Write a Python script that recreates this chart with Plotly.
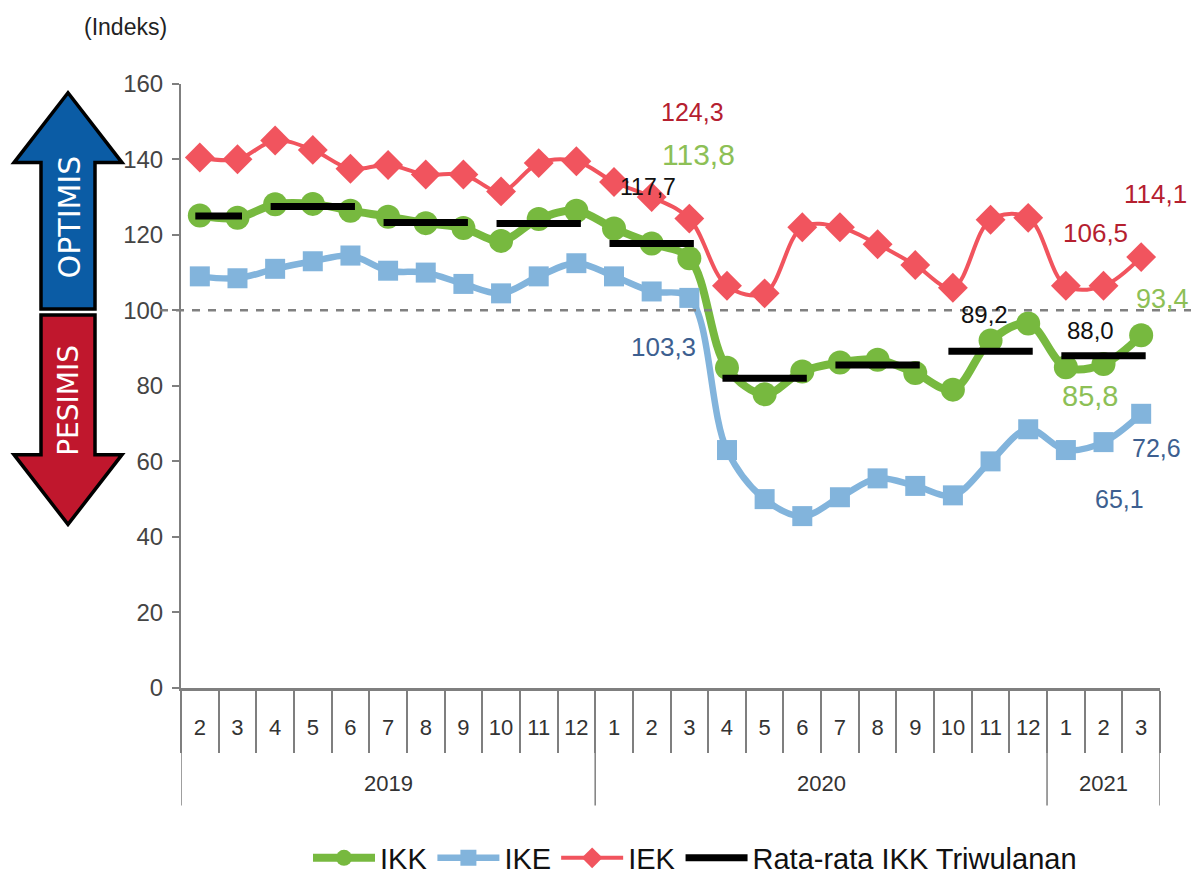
import plotly.graph_objects as go

OFF = 8  # default page margin around the figure
W, H = 1199, 866
PTOP, PH = 14, 800  # plot area top offset and height actually used by the page layout
L, R, T, B = 181, 1160, 84, 690
FONT = "Liberation Sans"

months = [2,3,4,5,6,7,8,9,10,11,12,1,2,3,4,5,6,7,8,9,10,11,12,1,2,3]
ikk = [125.1,124.5,128.1,128.2,126.4,124.8,123.1,121.8,118.4,124.2,126.4,121.7,117.7,113.8,84.8,77.8,83.8,86.2,86.9,83.4,79.0,92.0,96.5,84.9,85.8,93.4]
ike = [109,108.5,111,113,114.5,110.5,110,107,104.5,109,112.5,109,105,103.3,63,50,45.5,50.5,55.5,53.5,51,60,68.5,63,65.1,72.6]
iek = [140.5,140,145,142.5,137.5,138.5,136,136,131.5,139,139.5,134,130,124.3,106.5,104.5,122,122,117.5,112,106,124,124.5,106.5,106.5,114.1]
avg_start = [0,2,5,8,11,14,17,20,23]
avg_end = [1,4,7,10,13,16,19,22,25]
avg_val = [125,127.5,123.3,123,117.7,82,85.5,89.2,88.0]
years = ["2019","2020","2021"]
year_spans = [(-0.5,10.5),(10.5,22.5),(22.5,25.5)]
y_ticks = [0,20,40,60,80,100,120,140,160]

def px(x): return (x - OFF) / W
def py(y): return 1 - (y - OFF - PTOP) / PH

xs = list(range(len(months)))
ax, ay = [], []
for s, e, v in zip(avg_start, avg_end, avg_val):
    ax += [s - 0.12, e + 0.12, None]
    ay += [v, v, None]

fig = go.Figure()
fig.add_trace(go.Scatter(x=xs, y=ikk, name="IKK", mode="lines+markers",
    line=dict(color="#77B93F", width=8, shape="spline", smoothing=1),
    marker=dict(symbol="circle", size=24, color="#77B93F")))
fig.add_trace(go.Scatter(x=xs, y=ike, name="IKE", mode="lines+markers",
    line=dict(color="#82B4DC", width=6.5, shape="spline", smoothing=1),
    marker=dict(symbol="square", size=20, color="#82B4DC")))
fig.add_trace(go.Scatter(x=xs, y=iek, name="IEK", mode="lines+markers",
    line=dict(color="#F1545E", width=4, shape="spline", smoothing=1),
    marker=dict(symbol="diamond", size=23, color="#F1545E")))
fig.add_trace(go.Scatter(x=ax, y=ay, name="Rata-rata IKK Triwulanan", mode="lines",
    line=dict(color="black", width=7)))

shapes = []
shapes.append(dict(type="line", xref="paper", yref="y", x0=px(160), x1=px(1197), y0=100, y1=100,
                   line=dict(color="#808080", width=2.5, dash="8px 8px"), layer="above"))
for b in [-0.5, 10.5, 22.5, 25.5]:
    shapes.append(dict(type="line", xref="x", yref="paper", x0=b, x1=b, y0=py(B), y1=py(808),
                       line=dict(color="#7f7f7f", width=1.5)))
def path(pts):
    return "M " + " L ".join(f"{px(x):.5f},{py(y):.5f}" for x, y in pts) + " Z"
up = [(68,93),(122,163),(95,163),(95,310),(41,310),(41,163),(14,163)]
down = [(41,316),(95,316),(95,456),(122,456),(68,526),(14,456),(41,456)]
shapes.append(dict(type="path", xref="paper", yref="paper", path=path(up), fillcolor="#0B5CA5",
                   line=dict(color="black", width=3.5)))
shapes.append(dict(type="path", xref="paper", yref="paper", path=path(down), fillcolor="#C0172D",
                   line=dict(color="black", width=3.5)))

def note(text, x, y, size, color, **kw):
    return dict(text=text, xref="paper", yref="paper", x=px(x), y=py(y), xanchor="center", yanchor="middle",
                showarrow=False, font=dict(family=kw.pop("family", FONT), size=size, color=color), **kw)

RED, GRN, BLU, BLK = "#B5202F", "#8DC056", "#3D5F90", "#111111"
annotations = [
    note("(Indeks)", 125, 27, 23, "#222222"),
    note("OPTIMIS", 69, 218, 30, "white", textangle=-90, family="DejaVu Sans"),
    note("PESIMIS", 69, 402, 28, "white", textangle=-90, family="DejaVu Sans"),
    note("124,3", 692, 112, 25, RED),
    note("113,8", 698, 155, 30, GRN),
    note("117,7", 648, 188, 23, BLK),
    note("103,3", 663, 348, 26, BLU),
    note("89,2", 984, 315, 24, BLK),
    note("88,0", 1090, 331, 24, BLK),
    note("85,8", 1090, 397, 29, GRN),
    note("93,4", 1162, 300, 27, GRN),
    note("114,1", 1155, 195, 26, RED),
    note("106,5", 1095, 234, 26, RED),
    note("72,6", 1156, 449, 25, BLU),
    note("65,1", 1119, 500, 25, BLU),
]
for yr, (a, b) in zip(years, year_spans):
    annotations.append(dict(text=yr, xref="x", yref="paper", x=(a + b) / 2, y=py(786), showarrow=False,
                            xanchor="center", yanchor="middle", font=dict(family=FONT, size=22, color="#333333")))

fig.update_layout(
    width=W, height=H, autosize=False, margin=dict(l=0, r=0, t=0, b=0),
    paper_bgcolor="white", plot_bgcolor="white",
    font=dict(family=FONT, color="#333333"),
    shapes=shapes, annotations=annotations, hovermode=False,
    legend=dict(orientation="h", xref="container", yref="container", x=(308 - OFF) / W, y=1 - (858 - OFF) / H,
                xanchor="left", yanchor="middle",
                font=dict(family=FONT, size=29, color="#111111"), itemwidth=62,
                itemclick=False, itemdoubleclick=False, bgcolor="rgba(0,0,0,0)"),
    xaxis=dict(domain=[px(L), px(R)], range=[-0.5, 25.5], showgrid=False, zeroline=False,
               tickmode="array", tickvals=xs, ticktext=[str(m) for m in months], ticks="",
               ticklabelstandoff=18, tickfont=dict(family=FONT, size=22, color="#333333"),
               showline=True, linecolor="#7f7f7f", linewidth=3,
               minor=dict(tickmode="array", tickvals=[i - 0.5 for i in range(27)], ticks="outside",
                          ticklen=62, tickwidth=1.5, tickcolor="#7f7f7f", showgrid=False)),
    yaxis=dict(domain=[py(B), py(T)], range=[0, 160], tickmode="array", tickvals=y_ticks, showgrid=False,
               zeroline=False, ticks="outside", ticklen=7, tickwidth=2, tickcolor="#7f7f7f",
               showline=True, linecolor="#7f7f7f", linewidth=2, ticklabelstandoff=4,
               tickfont=dict(family=FONT, size=24, color="#444444")),
)
fig.write_html("out.html", config=dict(displayModeBar=False))
